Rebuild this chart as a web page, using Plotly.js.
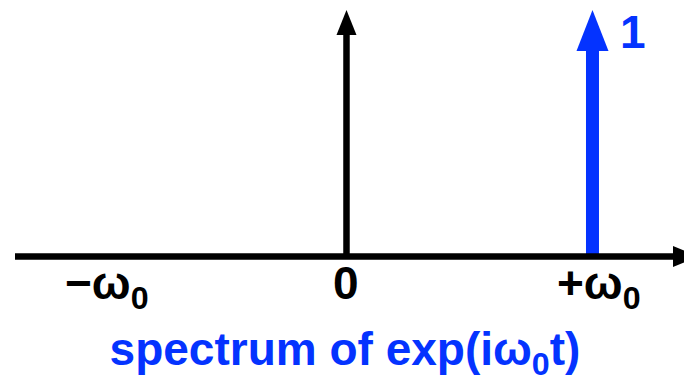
<!DOCTYPE html>
<html>
<head>
<meta charset="utf-8">
<script src="https://cdn.plot.ly/plotly-3.0.1.min.js"></script>
<style>
  html, body { margin: 0; padding: 0; background: #fff; }
  #chart { width: 684px; height: 377px; }
</style>
</head>
<body>
<div id="chart"></div>
<script>
// Spectral lines: frequency (in units of ω0) and amplitude
const lineFreqs = [1];
const lineAmps = [1];
const lineLabels = ['1'];

// Frequency-axis labels
const tickVals = [-1, 0, 1];
const tickText = ['−ω<sub>0</sub>', '0', '+ω<sub>0</sub>'];

const chartTitle = 'spectrum of exp(iω<sub>0</sub>t)';

// ---- layout geometry ----
const W = 684, H = 377;
const xRange = [-1.4085, 1.3720];
const yRange = [-0.4888, 1.0406];
const pxX = W / (xRange[1] - xRange[0]);   // pixels per frequency unit
const pxY = H / (yRange[1] - yRange[0]);   // pixels per amplitude unit

const BLUE = '#0433ff';
const BLACK = '#000000';
const FONT = '"Liberation Sans", Arial, Helvetica, sans-serif';

// Triangle pointing up, tip at (x, yTip); sizes in pixels
function headUp(x, yTip, wPx, lPx) {
  const hw = wPx / 2 / pxX, l = lPx / pxY;
  return { x: [x - hw, x + hw, x, x - hw], y: [yTip - l, yTip - l, yTip, yTip - l] };
}
// Triangle pointing right, tip at (xTip, y)
function headRight(xTip, y, wPx, lPx) {
  const hw = wPx / 2 / pxY, l = lPx / pxX;
  return { x: [xTip - l, xTip - l, xTip, xTip - l], y: [y - hw, y + hw, y, y - hw] };
}
function filled(pts, color) {
  return { type: 'scatter', mode: 'lines', x: pts.x, y: pts.y, fill: 'toself',
           fillcolor: color, line: { width: 0, color: color }, hoverinfo: 'skip' };
}
function seg(x, y, w, color) {
  return { type: 'scatter', mode: 'lines', x: x, y: y,
           line: { width: w, color: color }, hoverinfo: 'skip' };
}

const traces = [];

// spectral lines (drawn first so the axis sits on top of their feet)
lineFreqs.forEach((f, i) => {
  const a = lineAmps[i];
  const headLen = 41, headW = 32;
  traces.push(seg([f, f], [0, a - (headLen * 0.5) / pxY], 13, BLUE));
  traces.push(filled(headUp(f, a, headW, headLen), BLUE));
});

// frequency axis with arrow to the right
const axLeft = xRange[0] + 15 / pxX;
const axTip = xRange[1] + 15 / pxX;
traces.push(seg([axLeft, axTip - 20 / pxX], [0, 0], 6.5, BLACK));
traces.push(filled(headRight(axTip, 0, 21, 26), BLACK));

// amplitude axis with arrow upward
const axTop = 1;
traces.push(seg([0, 0], [0, axTop - 15 / pxY], 6.5, BLACK));
traces.push(filled(headUp(0, axTop, 20, 25), BLACK));

const annotations = [];
tickVals.forEach((v, i) => {
  annotations.push({
    x: v, y: 0, xref: 'x', yref: 'y', text: '<b>' + tickText[i] + '</b>',
    showarrow: false, xanchor: 'center', yanchor: 'top',
    xshift: i === 1 ? 0 : 7, yshift: 2,
    font: { family: FONT, size: 46, color: BLACK }
  });
});
lineFreqs.forEach((f, i) => {
  annotations.push({
    x: f, y: lineAmps[i], xref: 'x', yref: 'y', text: '<b>' + lineLabels[i] + '</b>',
    showarrow: false, xanchor: 'center', yanchor: 'top',
    xshift: 41, yshift: 6,
    font: { family: FONT, size: 46, color: BLUE }
  });
});

const layout = {
  width: W, height: H,
  margin: { l: 0, r: 0, t: 0, b: 0, pad: 0 },
  paper_bgcolor: '#ffffff', plot_bgcolor: '#ffffff',
  showlegend: false,
  hovermode: false,
  title: {
    text: '<b>' + chartTitle + '</b>',
    font: { family: FONT, size: 46, color: BLUE },
    x: 345 / W, xanchor: 'center', xref: 'container',
    y: 1 - 333 / H, yanchor: 'top', yref: 'container',
    pad: { t: 0, b: 0, l: 0, r: 0 }
  },
  xaxis: { range: xRange, visible: false, fixedrange: true },
  yaxis: { range: yRange, visible: false, fixedrange: true },
  annotations: annotations
};

Plotly.newPlot('chart', traces, layout, { displayModeBar: false, staticPlot: true });
</script>
</body>
</html>
